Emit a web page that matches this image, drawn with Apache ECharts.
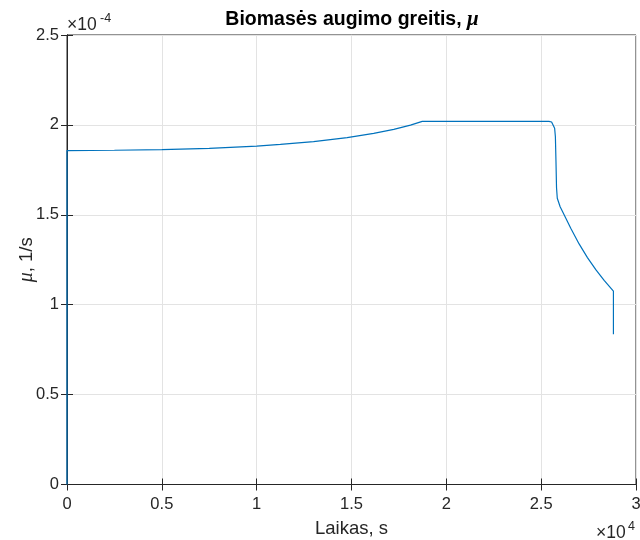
<!DOCTYPE html>
<html>
<head>
<meta charset="utf-8">
<script src="https://cdn.jsdelivr.net/npm/echarts@6/dist/echarts.min.js"></script>
<style>
  html, body { margin: 0; padding: 0; background: #fff; }
  #chart { width: 640px; height: 540px; }
</style>
</head>
<body>
<div id="chart"></div>
<script>
// Time, in units of 1e4 s
const timeE4 = [0, 0, 0.25, 0.5, 0.75, 1.0, 1.125, 1.3, 1.477, 1.617, 1.723, 1.811, 1.873,
  2.2, 2.541, 2.555, 2.562, 2.571, 2.575, 2.578, 2.581, 2.585, 2.60, 2.621, 2.656, 2.700, 2.744,
  2.788, 2.832, 2.881, 2.881];
// Specific growth rate mu, in units of 1e-4 1/s
const muE4 = [0, 1.857, 1.859, 1.862, 1.869, 1.882, 1.892, 1.907, 1.929, 1.953, 1.975, 1.999, 2.02,
  2.02, 2.02, 2.016, 2.005, 1.981, 1.934, 1.80, 1.65, 1.592, 1.545, 1.50, 1.425, 1.338, 1.262,
  1.195, 1.135, 1.075, 0.835];
const xTicks = [0, 0.5, 1, 1.5, 2, 2.5, 3];
const yTicks = [0, 0.5, 1, 1.5, 2, 2.5];

const axisColor = '#262626';
const gridColor = '#e3e3e3';
const font = 'Liberation Sans, Arial, sans-serif';

const points = timeE4.map((t, i) => [t, muE4[i]]);
const fmt = v => String(Math.round(v * 10) / 10);

const chart = echarts.init(document.getElementById('chart'));
chart.setOption({
  animation: false,
  backgroundColor: '#fff',
  title: {
    text: 'Biomasės augimo greitis, {m|μ}',
    left: 347, top: 4, textAlign: 'center',
    textStyle: {
      fontFamily: font, fontSize: 19.5, fontWeight: 'bold', color: '#000',
      rich: { m: { fontFamily: 'Liberation Serif, serif', fontStyle: 'italic', fontWeight: 'bold', fontSize: 21, color: '#000' } }
    }
  },
  grid: {
    left: 67, right: 4, top: 35, bottom: 55.5, show: true, borderColor: axisColor, borderWidth: 1,
    outerBoundsMode: 'none'
  },
  xAxis: [{
    type: 'value', min: 0, max: 3, interval: 0.5, position: 'bottom',
    name: 'Laikas, s', nameLocation: 'middle', nameGap: 35, nameMoveOverlap: false,
    nameTextStyle: { fontFamily: font, fontSize: 18.5, color: axisColor },
    axisLine: { lineStyle: { color: axisColor, width: 1 } },
    axisTick: { inside: true, length: 6, lineStyle: { color: axisColor } },
    axisLabel: { margin: 11, fontFamily: font, fontSize: 16.5, color: axisColor, formatter: fmt },
    splitLine: { show: true, lineStyle: { color: gridColor, width: 1 } }
  }, {
    type: 'value', min: 0, max: 3, interval: 0.5, position: 'top',
    axisLine: { show: true, lineStyle: { color: axisColor, width: 1 } },
    axisTick: { inside: true, length: 6, lineStyle: { color: axisColor } },
    axisLabel: { show: false }, splitLine: { show: false }
  }],
  yAxis: [{
    type: 'value', min: 0, max: 2.5, interval: 0.5, position: 'left',
    name: '{m|μ}, 1/s', nameLocation: 'middle', nameGap: 30, nameRotate: 90, nameMoveOverlap: false,
    nameTextStyle: {
      fontFamily: font, fontSize: 18.5, color: axisColor,
      rich: { m: { fontFamily: 'Liberation Serif, serif', fontStyle: 'italic', fontSize: 20, color: axisColor } }
    },
    axisLine: { show: true, lineStyle: { color: axisColor, width: 1 } },
    axisTick: { show: true, inside: true, length: 6, lineStyle: { color: axisColor } },
    axisLabel: { margin: 8, fontFamily: font, fontSize: 16.5, color: axisColor, formatter: fmt },
    splitLine: { show: true, lineStyle: { color: gridColor, width: 1 } }
  }, {
    type: 'value', min: 0, max: 2.5, interval: 0.5, position: 'right',
    axisLine: { show: true, lineStyle: { color: axisColor, width: 1 } },
    axisTick: { show: true, inside: true, length: 6, lineStyle: { color: axisColor } },
    axisLabel: { show: false }, splitLine: { show: false }
  }],
  graphic: [
    { type: 'text', left: 67, top: 16, style: { text: '×10', fontSize: 17.5, fontFamily: font, fill: axisColor } },
    { type: 'text', left: 100, top: 12, style: { text: '-4', fontSize: 12.5, fontFamily: font, fill: axisColor } },
    { type: 'text', left: 596, top: 524, style: { text: '×10', fontSize: 17.5, fontFamily: font, fill: axisColor } },
    { type: 'text', left: 628, top: 520, style: { text: '4', fontSize: 12.5, fontFamily: font, fill: axisColor } }
  ],
  series: [{
    type: 'line', data: points, showSymbol: false, symbol: 'none',
    lineStyle: { color: '#0072BD', width: 1.2 }, smooth: false
  }]
});
</script>
</body>
</html>
